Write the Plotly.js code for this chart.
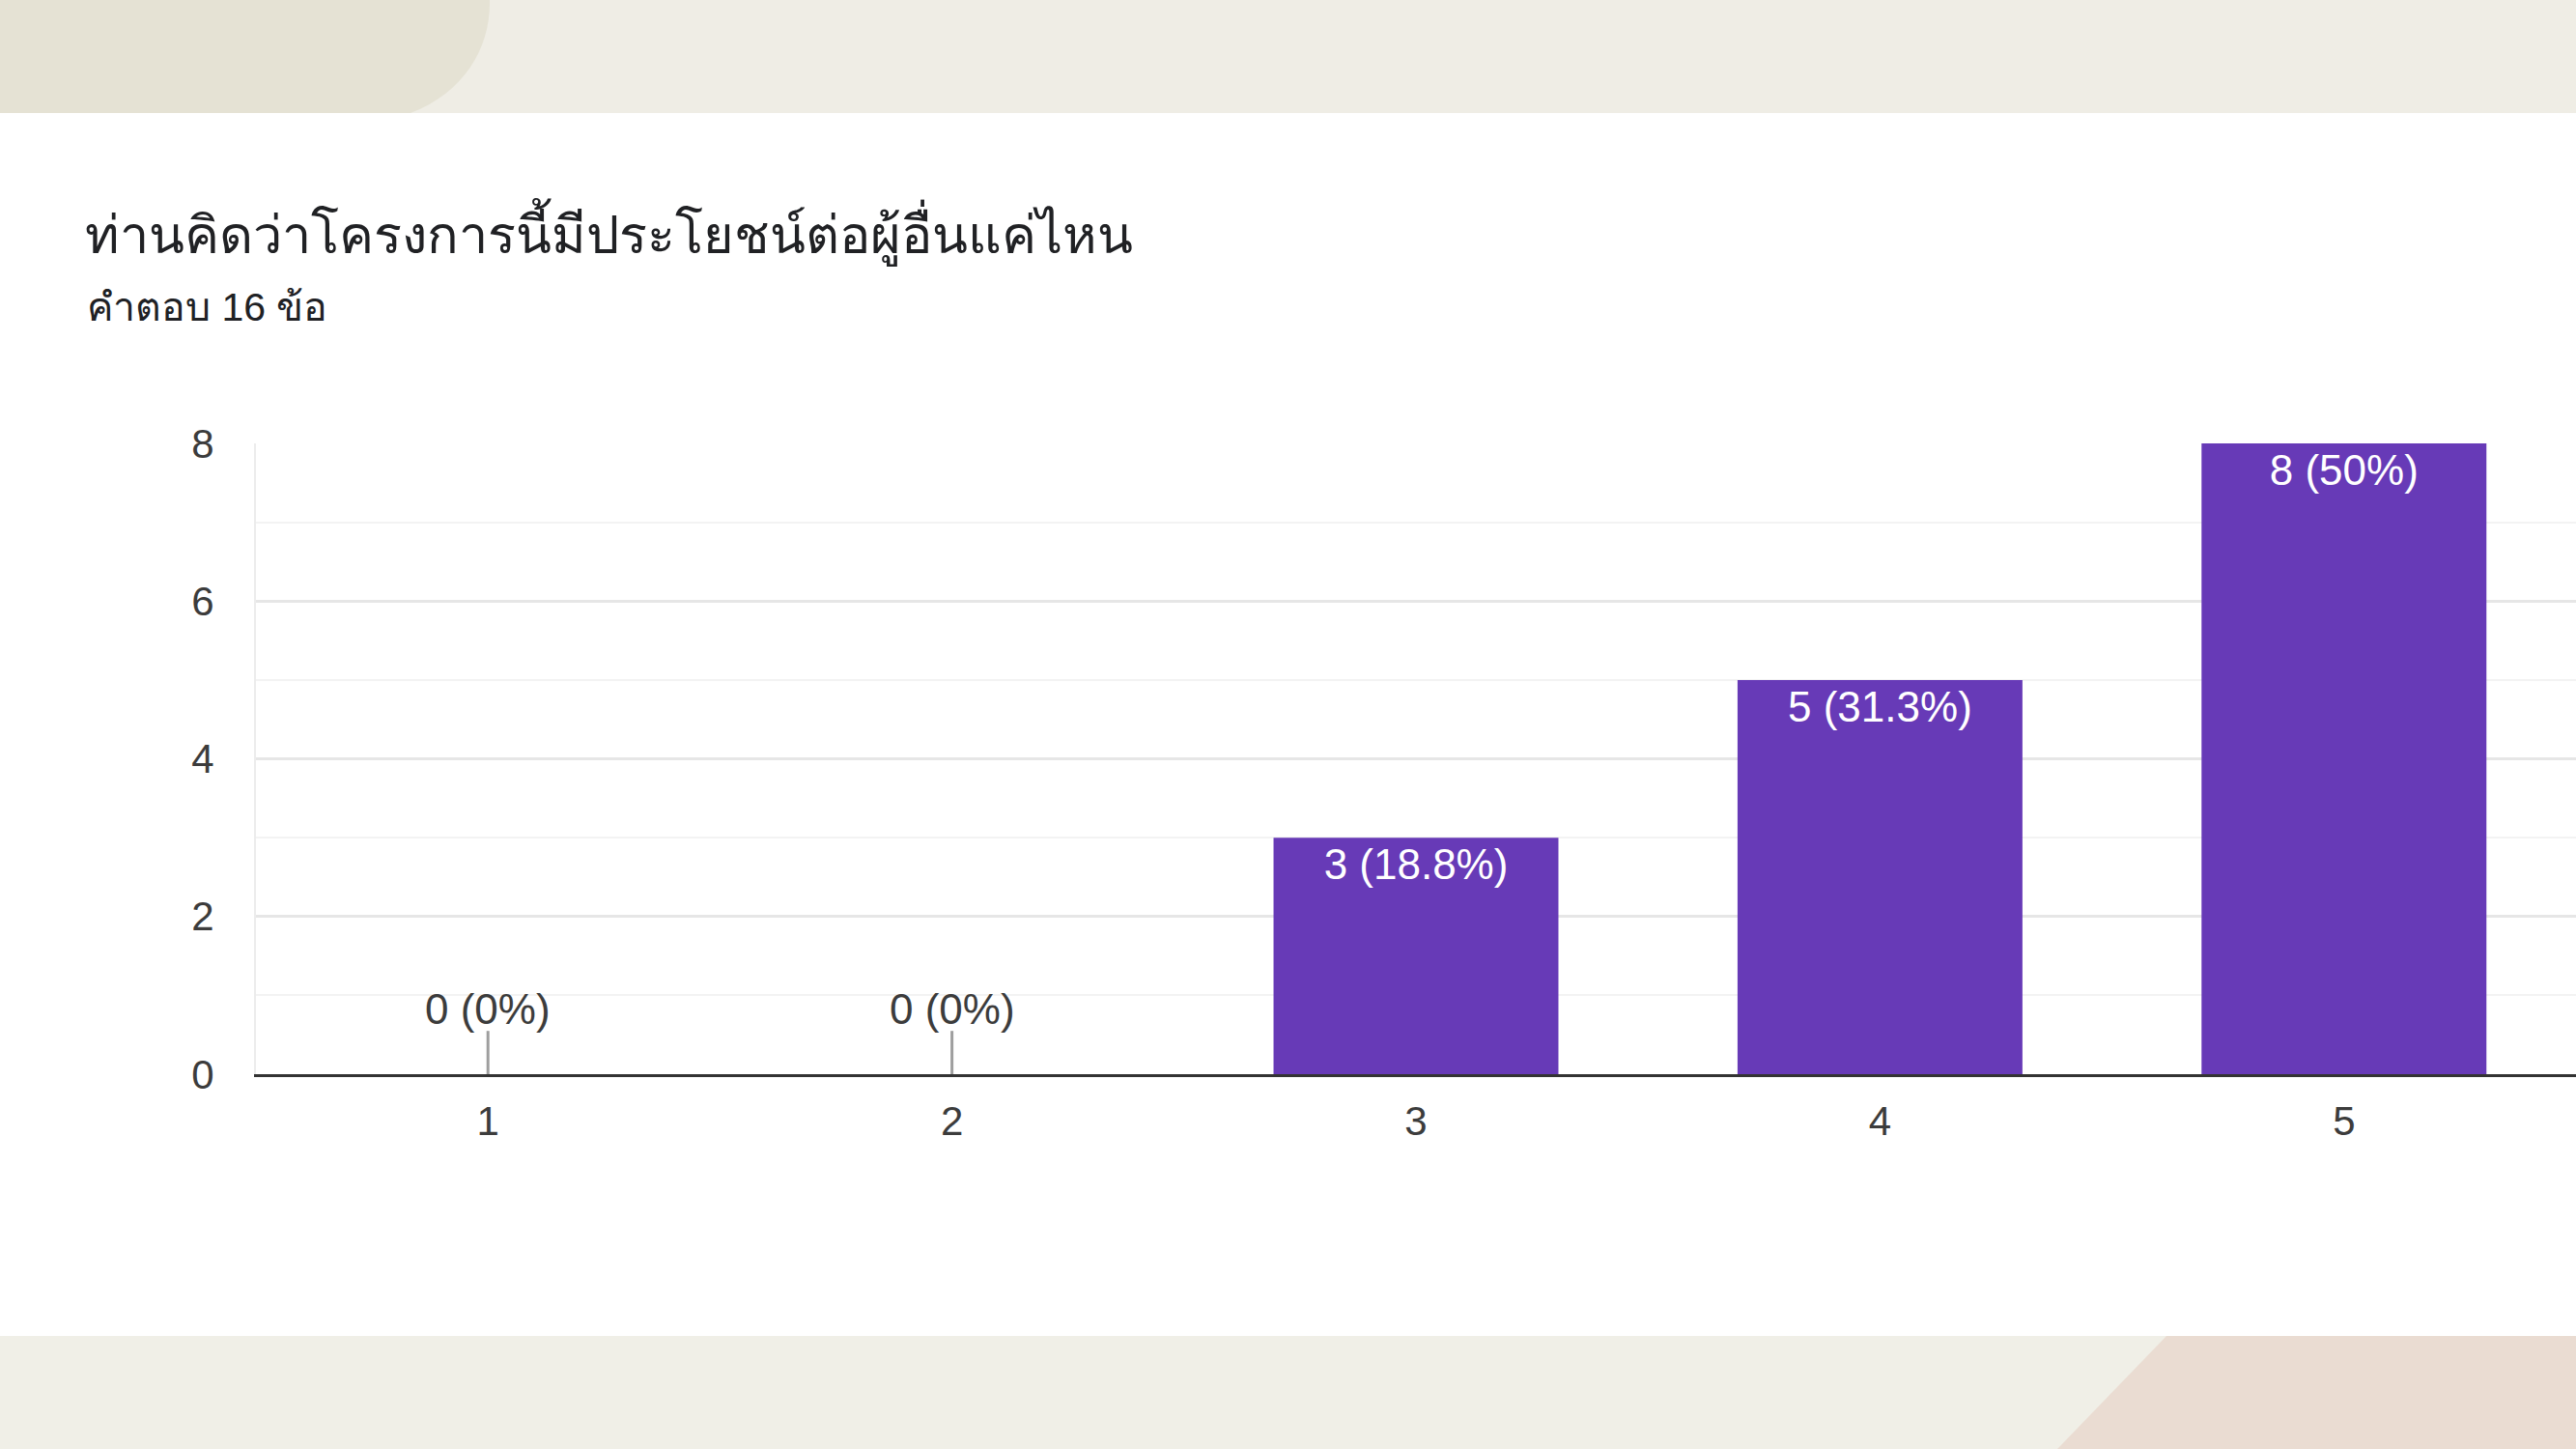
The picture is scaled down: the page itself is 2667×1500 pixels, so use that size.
<!DOCTYPE html>
<html>
<head>
<meta charset="utf-8">
<script src="https://cdn.plot.ly/plotly-3.0.1.min.js"></script>
<style>
  html, body { margin: 0; padding: 0; width: 2667px; height: 1500px; overflow: hidden; background: #ffffff; }
  #bg { position: absolute; left: 0; top: 0; width: 2667px; height: 1500px; z-index: 0; }
  #chart { position: absolute; left: 0; top: 0; width: 2667px; height: 1500px; z-index: 1; }
</style>
</head>
<body>
<svg id="bg" width="2667" height="1500" xmlns="http://www.w3.org/2000/svg">
  <rect x="0" y="0" width="2667" height="117" fill="#efede5"/>
  <path d="M0,0 L507,0 C508,48 482,95 425,117 L0,117 Z" fill="#e5e2d4"/>
  <rect x="0" y="1383" width="2667" height="117" fill="#f0efe7"/>
  <path d="M2243,1383 L2667,1383 L2667,1500 L2130,1500 Z" fill="#eadcd2"/>
</svg>
<div id="chart"></div>
<script>
const titleText = 'ท่านคิดว่าโครงการนี้มีประโยชน์ต่อผู้อื่นแค่ไหน';
const subtitleText = 'คำตอบ 16 ข้อ';
const categories = ['1', '2', '3', '4', '5'];
const counts = [0, 0, 3, 5, 8];
const yTicks = [0, 2, 4, 6, 8];

const total = counts.reduce((a, b) => a + b, 0);
const labels = counts.map(v => v + ' (' + (Math.round(v / total * 1000) / 10) + '%)');

const barColor = '#673ab7';
const fontFam = '"Liberation Sans", Arial, Roboto, sans-serif';

const zeroIdx = counts.map((v, i) => v === 0 ? i : -1).filter(i => i >= 0);

const traces = [
  {
    type: 'bar',
    x: categories,
    y: counts,
    marker: { color: barColor, line: { width: 0 } },
    text: labels.map((l, i) => counts[i] > 0 ? l : ''),
    textposition: 'inside',
    insidetextanchor: 'end',
    textangle: 0,
    textfont: { family: fontFam, size: 44, color: '#ffffff' },
    hoverinfo: 'skip',
    showlegend: false
  },
  {
    type: 'scatter',
    mode: 'markers',
    x: zeroIdx.map(i => categories[i]),
    y: zeroIdx.map(i => counts[i]),
    marker: { symbol: 'line-ns-open', size: 64, color: '#9e9e9e', line: { color: '#9e9e9e', width: 3 } },
    cliponaxis: true,
    hoverinfo: 'skip',
    showlegend: false
  }
];

const annotations = zeroIdx.map(i => ({
  x: i, y: counts[i], xref: 'x', yref: 'y',
  text: labels[i], showarrow: false,
  yanchor: 'bottom', yshift: 41,
  font: { family: fontFam, size: 44, color: '#3c3c3c' }
}));

annotations.push({
  text: subtitleText,
  xref: 'paper', yref: 'paper',
  x: (88 - 265) / 2402, y: (1112 - 318) / 653,
  xanchor: 'left', yanchor: 'middle',
  showarrow: false,
  font: { family: fontFam, size: 41, color: '#202124' }
});

const layout = {
  width: 2667, height: 1500,
  margin: { l: 265, r: 0, t: 459, b: 388, pad: 0 },
  paper_bgcolor: 'rgba(0,0,0,0)',
  plot_bgcolor: '#ffffff',
  bargap: 0.386,
  font: { family: fontFam, color: '#444444' },
  title: {
    text: titleText,
    x: 88 / 2667, xref: 'container', xanchor: 'left',
    y: 1 - 243 / 1500, yref: 'container', yanchor: 'middle',
    font: { family: fontFam, size: 54, color: '#202124' }
  },
  xaxis: {
    type: 'category',
    showline: true, linecolor: '#333333', linewidth: 3,
    showgrid: false, zeroline: false,
    ticks: 'outside', ticklen: 10, tickcolor: 'rgba(0,0,0,0)',
    tickfont: { family: fontFam, size: 42, color: '#3c3c3c' },
    fixedrange: true
  },
  yaxis: {
    range: [0, 8],
    tickvals: yTicks,
    showline: true, linecolor: '#ececec', linewidth: 2, mirror: true,
    showgrid: true, gridcolor: '#e6e6e6', gridwidth: 3,
    minor: { dtick: 1, showgrid: true, gridcolor: '#f3f3f3', gridwidth: 2, ticks: '' },
    zeroline: false,
    ticks: 'outside', ticklen: 33, tickcolor: 'rgba(0,0,0,0)',
    tickfont: { family: fontFam, size: 42, color: '#3c3c3c' },
    fixedrange: true
  },
  annotations: annotations
};

Plotly.newPlot('chart', traces, layout, { displayModeBar: false, staticPlot: true });
</script>
</body>
</html>
